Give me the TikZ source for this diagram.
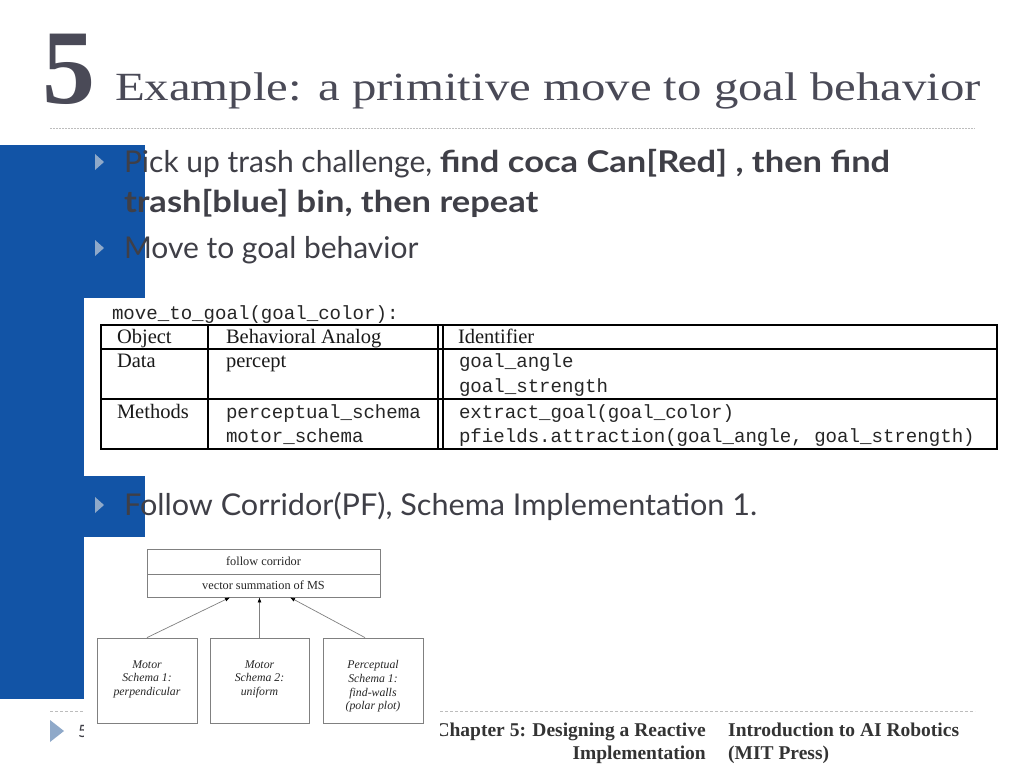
\documentclass[tikz,border=0pt]{standalone}
\usepackage{fontspec}
\setmainfont{Liberation Serif}
\setmonofont{Liberation Mono}
\newfontfamily\bodyfont{Lato}
\usetikzlibrary{arrows.meta,calc}
\definecolor{sideblue}{HTML}{1254A6}
\definecolor{titlegray}{HTML}{4A4A57}
\definecolor{textgray}{HTML}{3F3F47}
\definecolor{bulletblue}{HTML}{8FA9C9}
\definecolor{rulegray}{HTML}{BDBDBD}
\definecolor{boxgray}{HTML}{808080}
\newcommand{\wideb}[1]{\scalebox{1.15}[1]{\textbf{#1}}}
\tikzset{
  txt/.style={anchor=base west, inner sep=0pt, outer sep=0pt},
  bultxt/.style={txt, font=\bodyfont\fontsize{30}{34}\selectfont, text=textgray},
  bulmark/.style={fill=bulletblue, draw=none},
  tabserif/.style={txt, font=\fontsize{20.5}{24}\selectfont, text=black!90},
  tabmono/.style={txt, font=\ttfamily\fontsize{19.1}{22}\selectfont, text=black!85},
  tabline/.style={draw=black, line width=1.8pt},
  fcbox/.style={draw=boxgray, line width=0.8pt, minimum width=233pt, inner sep=0pt, font=\fontsize{12.3}{14}\selectfont, text=black!85},
  schbox/.style={draw=boxgray, line width=0.8pt, minimum height=85pt, inner sep=0pt},
  schtext/.style={anchor=north, align=center, inner sep=0pt, font=\itshape\fontsize{11.8}{13.8}\selectfont, text=black!85},
  arr/.style={draw=boxgray, line width=0.7pt, -{Latex[length=5pt,width=4pt,black]}},
  foot/.style={inner sep=0pt, font=\bfseries\fontsize{19.5}{23}\selectfont, text=black!80},
}
\begin{document}
\begin{tikzpicture}[x=1pt,y=-1pt]
\useasboundingbox (0,0) rectangle (1024,768);
\fill[white] (0,0) rectangle (1024,768);
% side blue band
\fill[sideblue] (0,145) rectangle (145,537);
\fill[sideblue] (0,537) rectangle (84,699);
% title
\node[txt, font=\bfseries\fontsize{106}{106}\selectfont, text=titlegray] (num) at (42,103) {5};
\node[txt, font=\fontsize{40}{44}\selectfont, text=titlegray] (title) at (115,100) {\scalebox{1.22}[1]{Example: a primitive move to goal behavior}};
\draw[rulegray, line width=1pt, dash pattern=on 1.5pt off 1.5pt] (50,128) -- (975,128);
% footer rule (partly covered by picture)
\draw[rulegray, line width=0.8pt, dash pattern=on 3pt off 2pt] (50,711) -- (975,711);
% bullets
\fill[bulmark] (95,154) -- (104,162) -- (95,170) -- cycle;
\node[bultxt] (b1) at (124,172) {Pick up trash challenge, \wideb{find coca Can[Red] , then find}};
\node[bultxt] (b1b) at (124,212) {\wideb{trash[blue] bin, then repeat}};
\fill[bulmark] (95,240) -- (104,248) -- (95,256) -- cycle;
\node[bultxt] (b2) at (124,258) {Move to goal behavior};
\fill[bulmark] (95,497) -- (104,505) -- (95,513) -- cycle;
\node[bultxt] (b3) at (124,515) {\scalebox{1.02}[1]{Follow Corridor(PF), Schema Implementation 1.}};
% table picture
\fill[white] (84,298) rectangle (1000,476);
\node[tabmono] (sig) at (112,319) {move\_to\_goal(goal\_color):};
\draw[tabline] (101,325) rectangle (997,449);
\draw[tabline] (101,349) -- (997,349);
\draw[tabline] (101,399) -- (997,399);
\draw[tabline] (208,325) -- (208,449);
\draw[tabline] (438,325) -- (438,449);
\draw[tabline] (443,325) -- (443,449);
\node[tabserif] (h1) at (117,343) {Object};
\node[tabserif] (h2) at (226,343) {Behavioral Analog};
\node[tabserif] (h3) at (458,343) {Identifier};
\node[tabserif] (d1) at (117,367) {Data};
\node[tabserif] (d2) at (226,367) {percept};
\node[tabmono] (d3) at (459,367) {goal\_angle};
\node[tabmono] (d4) at (459,392) {goal\_strength};
\node[tabserif] (m1l) at (117,418) {Methods};
\node[tabmono] (m2l) at (226,418) {perceptual\_schema};
\node[tabmono] (m3l) at (226,442) {motor\_schema};
\node[tabmono] (m4l) at (459,418) {extract\_goal(goal\_color)};
\node[tabmono] (m5l) at (459,442) {pfields.attraction(goal\_angle, goal\_strength)};
% page number and footer text (partly covered by picture)
\node[txt, font=\bodyfont\fontsize{17}{20}\selectfont, text=textgray] (pg) at (78,737) {5};
\node[foot, anchor=base east] (f1) at (706,736) {Chapter 5: Designing a Reactive};
\node[foot, anchor=base east] (f2) at (706,759) {Implementation};
\node[foot, anchor=base west] (f3) at (728,736) {Introduction to AI Robotics};
\node[foot, anchor=base west] (f4) at (728,759) {(MIT Press)};
\fill[bulmark] (50,720) -- (64,731) -- (50,742) -- cycle;
% schema picture
\fill[white] (84,537) rectangle (440,762);
\node[fcbox, minimum height=25pt] (fcA) at (263.5,561.5) {follow corridor};
\node[fcbox, minimum height=23pt] (fcB) at (263.5,585.5) {vector summation of MS};
\node[schbox, minimum width=100pt] (s1) at (147,680.5) {};
\node[schbox, minimum width=99pt] (s2) at (259.5,680.5) {};
\node[schbox, minimum width=100pt] (s3) at (373,680.5) {};
\node[schtext] (t1) at ($(s1.north)+(0,22.5)$) {Motor\\Schema 1:\\perpendicular};
\node[schtext] (t2) at ($(s2.north)+(0,22.5)$) {Motor\\Schema 2:\\uniform};
\node[schtext] (t3) at ($(s3.north)+(0,22.5)$) {Perceptual\\Schema 1:\\find-walls\\(polar plot)};
\coordinate (e1) at ($(fcB.south)+(-33.5,0)$);
\coordinate (e3) at ($(fcB.south)+(26.5,0)$);
\coordinate (o3) at ($(s3.north)+(-8,0)$);
\draw[arr] (s1.north) -- (e1);
\draw[arr] (s2.north) -- (s2.north |- fcB.south);
\draw[arr] (o3) -- (e3);
\end{tikzpicture}
\end{document}
